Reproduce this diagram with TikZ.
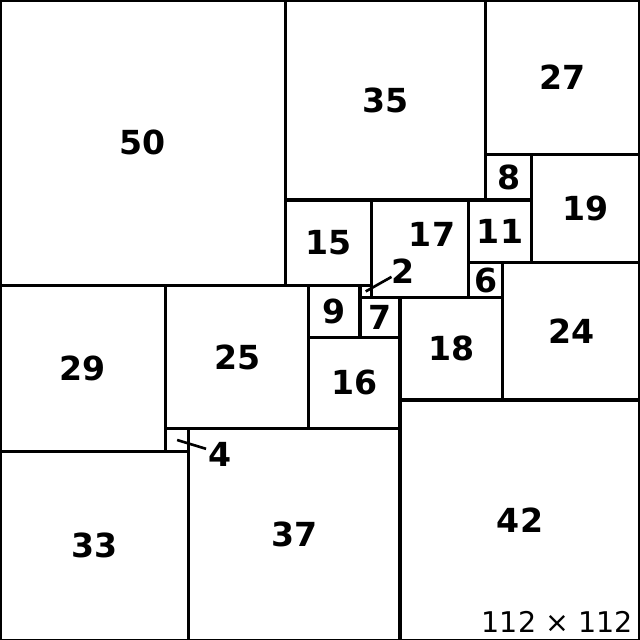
\documentclass[tikz,border=0pt]{standalone}
\usepackage{fontspec}
\setmainfont{DejaVu Sans}
\usetikzlibrary{positioning}
\tikzset{
  sq/.style={draw, line width=1.5pt, inner sep=0pt, outer sep=0pt, font=\fontsize{16.5}{18}\selectfont\bfseries},
  lbl/.style={inner sep=0pt, font=\fontsize{16.5}{18}\selectfont\bfseries},
  ptr/.style={line width=1.3pt},
  size/.style={inner sep=0pt, font=\fontsize{14.2}{16}\selectfont}
}

\begin{document}
\begin{tikzpicture}[x=1mm, y=-1mm]
  \useasboundingbox (0,0) rectangle (112,112);
  % squares: left/top corner and side
  \foreach \x/\y/\s in {0/0/50, 50/0/35, 85/0/27, 85/27/8, 93/27/19, 50/35/15,
      82/35/11, 82/46/6, 88/46/24, 0/50/29, 29/50/25, 54/50/9, 63/52/7,
      70/52/18, 54/59/16, 70/70/42, 33/75/37, 0/79/33}
    \node[sq, minimum size=\s mm] (q\s) at ({\x+\s/2},{\y+\s/2}) {\s};
  \node[sq, minimum size=17mm] (q17) at (73.5,43.5) {};
  \node[sq, minimum size=2mm] (q2) at (64,51) {};
  \node[sq, minimum size=4mm] (q4) at (31,77) {};

  \node[lbl] (t17) at (75.6,41.0) {17};
  \node[lbl] (t2) at (70.6,47.4) {2};
  \node[lbl] (t4) at (38.5,79.6) {4};
  \draw[ptr] (q2.center) -- ([shift={(0pt,-3pt)}]t2.west);
  \draw[ptr] (q4.center) -- ([shift={(-1pt,3pt)}]t4.west);

  \node[size, anchor=base east] (dim) at (110.8,110.6) {112 × 112};
\end{tikzpicture}
\end{document}
